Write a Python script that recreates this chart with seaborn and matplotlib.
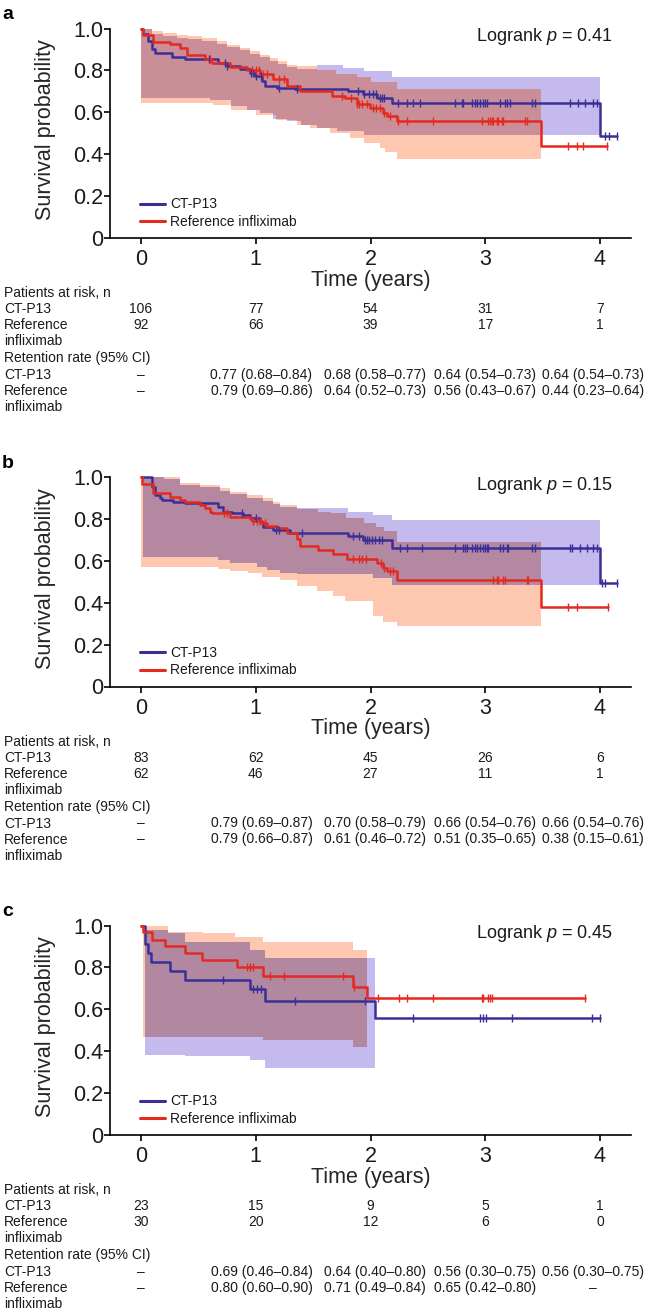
import numpy as np
import matplotlib
matplotlib.use('Agg')
import matplotlib.pyplot as plt
from matplotlib.lines import Line2D
from matplotlib import transforms
import seaborn as sns

sns.set_style('ticks')
plt.rcParams['font.family'] = ['Liberation Sans', 'DejaVu Sans']
plt.rcParams['mathtext.fontset'] = 'custom'
plt.rcParams['mathtext.rm'] = 'Liberation Sans'
plt.rcParams['mathtext.it'] = 'Liberation Sans:italic'
plt.rcParams['text.color'] = '#1a1a1a'

# ---------------- data: panel a ----------------
a_blue_t = [0, 0.02, 0.064, 0.093, 0.122, 0.267, 0.383, 0.674, 0.746, 0.863, 0.95, 0.993,
            1.051, 1.08, 1.182, 1.342, 1.807, 1.937, 2.053, 2.185, 4.0]
a_blue_s = [1.0, 0.973, 0.941, 0.901, 0.885, 0.864, 0.853, 0.837, 0.821, 0.805, 0.789, 0.773,
            0.749, 0.726, 0.718, 0.71, 0.702, 0.686, 0.67, 0.646, 0.486]
a_blue_end = 4.15
a_blue_cens = [0.59, 0.73, 0.75, 0.96, 0.98, 1.0, 1.05, 1.2, 1.36, 1.89, 1.94, 1.99, 2.02, 2.05,
               2.08, 2.1, 2.12, 2.242, 2.315, 2.373, 2.431, 2.736, 2.795, 2.809, 2.882, 2.911,
               2.925, 2.954, 2.983, 2.998, 3.012, 3.128, 3.172, 3.186, 3.216, 3.404, 3.433,
               3.739, 3.811, 3.869, 3.942, 3.971, 4.04, 4.08, 4.15]
a_blue_hi_t = [0, 0.093, 0.194, 0.311, 0.412, 0.529, 0.659, 0.746, 0.863, 0.95, 1.037, 1.124,
               1.196, 1.269, 1.356, 1.53, 1.76, 1.94, 2.19]
a_blue_hi = [1.0, 0.975, 0.965, 0.957, 0.95, 0.942, 0.925, 0.91, 0.895, 0.878, 0.862, 0.846,
             0.83, 0.815, 0.806, 0.825, 0.81, 0.795, 0.767]
a_blue_lo_t = [0, 0.6, 0.78, 0.92, 1.04, 1.15, 1.27, 1.39, 1.53, 1.71, 1.94]
a_blue_lo = [0.668, 0.66, 0.628, 0.613, 0.597, 0.57, 0.557, 0.541, 0.525, 0.509, 0.493]
a_blue_ci_end = 4.0

a_red_t = [0, 0.02, 0.107, 0.253, 0.34, 0.398, 0.558, 0.616, 0.776, 0.921, 1.037, 1.153, 1.27,
           1.385, 1.661, 1.778, 1.88, 1.995, 2.112, 2.14, 2.228, 3.49]
a_red_s = [1.0, 0.97, 0.934, 0.925, 0.906, 0.874, 0.853, 0.837, 0.816, 0.8, 0.781, 0.757, 0.726,
           0.702, 0.678, 0.667, 0.641, 0.622, 0.598, 0.582, 0.56, 0.44]
a_red_end = 4.06
a_red_cens = [0.6, 0.97, 1.0, 1.03, 1.06, 1.1, 1.2, 1.25, 1.75, 1.83, 1.88, 1.9, 1.93, 1.97,
              2.02, 2.05, 2.08, 2.12, 2.17, 2.242, 2.315, 2.547, 2.968, 3.026, 3.04, 3.055,
              3.07, 3.099, 3.113, 3.142, 3.157, 3.346, 3.361, 3.723, 3.796, 3.854, 4.06]
a_red_hi_t = [0, 0.093, 0.194, 0.311, 0.412, 0.529, 0.659, 0.746, 0.863, 0.95, 1.037, 1.124,
              1.196, 1.269, 1.356, 1.53, 1.7, 1.88, 2.0, 2.23]
a_red_hi = [1.0, 0.986, 0.978, 0.97, 0.963, 0.955, 0.939, 0.923, 0.907, 0.891, 0.875, 0.859,
            0.843, 0.827, 0.819, 0.8, 0.785, 0.77, 0.745, 0.71]
a_red_lo_t = [0, 0.63, 0.78, 1.0, 1.18, 1.36, 1.47, 1.65, 1.82, 1.94, 2.08, 2.13, 2.23]
a_red_lo = [0.644, 0.636, 0.613, 0.589, 0.565, 0.541, 0.525, 0.501, 0.477, 0.453, 0.43, 0.41, 0.375]
a_red_ci_end = 3.49

# ---------------- data: panel b ----------------
b_blue_t = [0, 0.093, 0.122, 0.166, 0.18, 0.282, 0.383, 0.674, 0.717, 0.79, 0.892, 0.95,
            1.037, 1.066, 1.153, 1.298, 1.807, 1.937, 2.185, 4.0]
b_blue_s = [1.0, 0.954, 0.914, 0.898, 0.89, 0.883, 0.875, 0.859, 0.835, 0.827, 0.819, 0.803,
            0.787, 0.763, 0.748, 0.732, 0.716, 0.7, 0.66, 0.494]
b_blue_end = 4.146
b_blue_cens = [0.88, 1.0, 1.18, 1.2, 1.4, 1.85, 1.9, 1.95, 1.97, 1.99, 2.01, 2.04, 2.07, 2.1,
               2.257, 2.315, 2.446, 2.736, 2.809, 2.824, 2.838, 2.882, 2.911, 2.925, 2.954,
               2.983, 2.998, 3.012, 3.026, 3.128, 3.157, 3.186, 3.2, 3.404, 3.433, 3.739,
               3.753, 3.826, 3.884, 3.942, 3.971, 4.015, 4.044, 4.146]
b_blue_hi_t = [0, 0.2, 0.34, 0.514, 0.688, 0.776, 0.921, 1.066, 1.153, 1.211, 1.356, 1.807,
               2.02, 2.19]
b_blue_hi = [1.0, 0.99, 0.96, 0.95, 0.935, 0.918, 0.9, 0.885, 0.87, 0.855, 0.851, 0.835,
             0.819, 0.795]
b_blue_lo_t = [0.02, 0.674, 0.776, 1.008, 1.095, 1.211, 1.356, 2.02, 2.19]
b_blue_lo = [0.62, 0.605, 0.59, 0.571, 0.555, 0.543, 0.535, 0.52, 0.486]
b_blue_ci_end = 4.0

b_red_t = [0, 0.005, 0.107, 0.253, 0.34, 0.383, 0.514, 0.558, 0.601, 0.616, 0.776, 0.95,
           0.964, 1.051, 1.095, 1.182, 1.269, 1.356, 1.385, 1.545, 1.676, 1.792, 2.053,
           2.112, 2.14, 2.23, 3.49]
b_red_s = [1.0, 0.968, 0.922, 0.906, 0.89, 0.883, 0.867, 0.851, 0.835, 0.827, 0.808, 0.798,
           0.792, 0.779, 0.767, 0.756, 0.732, 0.703, 0.671, 0.652, 0.633, 0.608, 0.589,
           0.565, 0.549, 0.51, 0.38]
b_red_end = 4.072
b_red_cens = [0.72, 0.75, 0.98, 1.01, 1.04, 1.08, 1.85, 1.9, 1.93, 1.96, 2.09, 2.12, 2.17,
              2.2, 3.07, 3.099, 3.113, 3.157, 3.172, 3.361, 3.375, 3.724, 3.796, 4.072]
b_red_hi_t = [0, 0.34, 0.514, 0.688, 0.776, 0.921, 1.066, 1.153, 1.211, 1.356, 1.545, 1.66,
              1.79, 1.94, 2.05, 2.12, 2.23]
b_red_hi = [1.0, 0.97, 0.962, 0.946, 0.93, 0.914, 0.898, 0.883, 0.867, 0.845, 0.835, 0.827,
            0.803, 0.779, 0.763, 0.74, 0.692]
b_red_lo_t = [0, 0.674, 0.776, 0.935, 1.051, 1.211, 1.356, 1.53, 1.676, 1.777, 2.024, 2.11, 2.23]
b_red_lo = [0.57, 0.56, 0.549, 0.541, 0.525, 0.51, 0.478, 0.454, 0.43, 0.406, 0.335, 0.31, 0.287]
b_red_ci_end = 3.49

# ---------------- data: panel c ----------------
c_blue_t = [0, 0.035, 0.064, 0.084, 0.253, 0.383, 0.95, 1.08, 2.04]
c_blue_s = [1.0, 0.913, 0.87, 0.826, 0.783, 0.739, 0.696, 0.638, 0.558]
c_blue_end = 4.0
c_blue_cens = [0.717, 0.979, 1.008, 1.046, 1.342, 1.952, 2.373, 2.954, 2.983, 3.006, 3.23,
               3.93, 4.0]
c_blue_hi_t = [0.035, 0.238, 0.383, 0.95, 1.08]
c_blue_hi = [0.978, 0.962, 0.922, 0.883, 0.846]
c_blue_lo_t = [0.035, 0.383, 0.95, 1.08]
c_blue_lo = [0.382, 0.375, 0.359, 0.319]
c_blue_ci_end = 2.04

c_red_t = [0, 0.02, 0.093, 0.209, 0.383, 0.529, 0.834, 1.066, 1.85, 1.966]
c_red_s = [1.0, 0.967, 0.933, 0.9, 0.867, 0.833, 0.8, 0.757, 0.707, 0.653]
c_red_end = 3.87
c_red_cens = [0.921, 0.95, 0.973, 1.124, 1.246, 1.763, 1.856, 2.068, 2.251, 2.315, 2.547,
              2.968, 2.983, 3.026, 3.04, 3.055, 3.87]
c_red_hi_t = [0.02, 0.238, 0.529, 0.819, 1.066, 1.85]
c_red_hi = [1.0, 0.97, 0.962, 0.946, 0.919, 0.883]
c_red_lo_t = [0.02, 1.066, 1.85]
c_red_lo = [0.47, 0.455, 0.42]
c_red_ci_end = 1.966

# ---------------- tables ----------------
years = [0, 1, 2, 3, 4]
ret_pos = [0, 1.05, 2.04, 3.0, 3.94]
a_risk_ct = [106, 77, 54, 31, 7]
a_risk_ref = [92, 66, 39, 17, 1]
a_ret_ct = ['–', '0.77 (0.68–0.84)', '0.68 (0.58–0.77)', '0.64 (0.54–0.73)', '0.64 (0.54–0.73)']
a_ret_ref = ['–', '0.79 (0.69–0.86)', '0.64 (0.52–0.73)', '0.56 (0.43–0.67)', '0.44 (0.23–0.64)']
b_risk_ct = [83, 62, 45, 26, 6]
b_risk_ref = [62, 46, 27, 11, 1]
b_ret_ct = ['–', '0.79 (0.69–0.87)', '0.70 (0.58–0.79)', '0.66 (0.54–0.76)', '0.66 (0.54–0.76)']
b_ret_ref = ['–', '0.79 (0.66–0.87)', '0.61 (0.46–0.72)', '0.51 (0.35–0.65)', '0.38 (0.15–0.61)']
c_risk_ct = [23, 15, 9, 5, 1]
c_risk_ref = [30, 20, 12, 6, 0]
c_ret_ct = ['–', '0.69 (0.46–0.84)', '0.64 (0.40–0.80)', '0.56 (0.30–0.75)', '0.56 (0.30–0.75)']
c_ret_ref = ['–', '0.80 (0.60–0.90)', '0.71 (0.49–0.84)', '0.65 (0.42–0.80)', '–']

letters = ['a', 'b', 'c']
pvalues = ['0.41', '0.15', '0.45']
group_labels = ['CT-P13', 'Reference infliximab']

BLUE, RED = '#3a2f98', '#e42a20'
LAVENDER, PEACH = '#c4baee', '#fdc8af'
overlap_colors = ['#c98e98', '#b488a0', '#b288a0']


def group(t, s, end, cens, hi_t, hi, lo_t, lo, ci_end):
    return dict(t=t, s=s, end=end, cens=cens, hi_t=hi_t, hi=hi, lo_t=lo_t, lo=lo, ci_end=ci_end)


panels = [
    dict(blue=group(a_blue_t, a_blue_s, a_blue_end, a_blue_cens, a_blue_hi_t, a_blue_hi,
                    a_blue_lo_t, a_blue_lo, a_blue_ci_end),
         red=group(a_red_t, a_red_s, a_red_end, a_red_cens, a_red_hi_t, a_red_hi,
                   a_red_lo_t, a_red_lo, a_red_ci_end),
         risk=(a_risk_ct, a_risk_ref), ret=(a_ret_ct, a_ret_ref)),
    dict(blue=group(b_blue_t, b_blue_s, b_blue_end, b_blue_cens, b_blue_hi_t, b_blue_hi,
                    b_blue_lo_t, b_blue_lo, b_blue_ci_end),
         red=group(b_red_t, b_red_s, b_red_end, b_red_cens, b_red_hi_t, b_red_hi,
                   b_red_lo_t, b_red_lo, b_red_ci_end),
         risk=(b_risk_ct, b_risk_ref), ret=(b_ret_ct, b_ret_ref)),
    dict(blue=group(c_blue_t, c_blue_s, c_blue_end, c_blue_cens, c_blue_hi_t, c_blue_hi,
                    c_blue_lo_t, c_blue_lo, c_blue_ci_end),
         red=group(c_red_t, c_red_s, c_red_end, c_red_cens, c_red_hi_t, c_red_hi,
                   c_red_lo_t, c_red_lo, c_red_ci_end),
         risk=(c_risk_ct, c_risk_ref), ret=(c_ret_ct, c_ret_ref)),
]


def step_eval(tt, vv, start, end, grid):
    tt = np.asarray(tt, float)
    vv = np.asarray(vv, float)
    idx = np.clip(np.searchsorted(tt, grid, side='right') - 1, 0, None)
    out = vv[idx]
    out[(grid < start) | (grid >= end)] = np.nan
    return out


def band_arrays(g, grid):
    start = max(g['hi_t'][0], g['lo_t'][0])
    hi = step_eval(g['hi_t'], g['hi'], start, g['ci_end'], grid)
    lo = step_eval(g['lo_t'], g['lo'], start, g['ci_end'], grid)
    return lo, hi


def as_steps(grid, vals):
    return np.repeat(grid, 2)[1:-1], np.repeat(vals[:-1], 2)


def km_at(g, x):
    t = np.asarray(g['t'])
    s = np.asarray(g['s'])
    return s[np.searchsorted(t, x, side='right') - 1]


# ---------------- figure ----------------
W, H = 646, 1313
fig = plt.figure(figsize=(W / 100, H / 100), dpi=100)

X0, XS, YS = 141, 114.75, 209.5        # pixel of t=0, px per year, px per unit survival
axis_bottoms = [238, 686.5, 1135]
row_off = dict(head1=55, ct1=71, ref1=87, inf1=103, head2=120, ct2=137, ref2=153, inf2=169)

for k, p in enumerate(panels):
    y0 = axis_bottoms[k]
    ax = fig.add_axes([110 / W, (H - y0) / H, 521 / W, 1.03 * YS / H])
    ax.set_xlim(-31 / XS, 490 / XS)
    ax.set_ylim(0, 1.03)

    # confidence bands (blue, red and their overlap)
    grid = np.unique(np.concatenate([
        p['blue']['hi_t'], p['blue']['lo_t'], [p['blue']['ci_end']],
        p['red']['hi_t'], p['red']['lo_t'], [p['red']['ci_end']]]).astype(float))
    blo, bhi = band_arrays(p['blue'], grid)
    rlo, rhi = band_arrays(p['red'], grid)
    olo = np.maximum(blo, rlo)
    ohi = np.minimum(bhi, rhi)
    for lo, hi, col in [(blo, bhi, LAVENDER), (rlo, rhi, PEACH), (olo, ohi, overlap_colors[k])]:
        xs, los = as_steps(grid, lo)
        _, his = as_steps(grid, hi)
        ok = ~np.isnan(los) & ~np.isnan(his) & (np.nan_to_num(his) > np.nan_to_num(los))
        ax.fill_between(xs, np.nan_to_num(los), np.nan_to_num(his), where=ok,
                        color=col, linewidth=0, zorder=1)

    # KM curves and censor ticks
    for key, col in [('blue', BLUE), ('red', RED)]:
        g = p[key]
        xs = list(g['t']) + [g['end']]
        ys = list(g['s']) + [g['s'][-1]]
        sns.lineplot(x=xs, y=ys, drawstyle='steps-post', color=col, linewidth=1.8,
                     estimator=None, sort=False, ax=ax, zorder=3)
        cy = km_at(g, np.asarray(g['cens']))
        sns.scatterplot(x=g['cens'], y=cy, marker='|', s=30, color=col, linewidth=1.0,
                        ax=ax, zorder=4)

    # axes styling
    sns.despine(ax=ax)
    ax.spines['left'].set_bounds(0, 1.0)
    for sp in ['left', 'bottom']:
        ax.spines[sp].set_linewidth(1.2)
        ax.spines[sp].set_color('black')
    ax.set_xticks(years)
    ax.set_xticklabels([str(y) for y in years])
    ax.set_yticks([0, 0.2, 0.4, 0.6, 0.8, 1.0])
    ax.set_yticklabels(['0', '0.2', '0.4', '0.6', '0.8', '1.0'])
    ax.tick_params(axis='both', labelsize=15.5, length=4, width=1.2, color='black',
                   labelcolor='#1a1a1a')
    ax.tick_params(axis='y', pad=1)
    ax.tick_params(axis='x', pad=4)
    ax.set_xlabel('Time (years)', fontsize=15.5)
    ax.set_ylabel('Survival probability', fontsize=15.5)
    ax.xaxis.set_label_coords(0.5, -0.146)
    ax.yaxis.set_label_coords(-0.1036, 0.5)

    ax.text(4.11, 0.94, f'Logrank $p$ = {pvalues[k]}', ha='right', va='baseline', fontsize=13)

    handles = [Line2D([], [], color=BLUE, lw=2.2), Line2D([], [], color=RED, lw=2.2)]
    ax.legend(handles, group_labels, loc='lower left', bbox_to_anchor=(0.057, 0.042),
              frameon=False, fontsize=10, handlelength=1.8, handletextpad=0.4,
              labelspacing=0.25, borderaxespad=0, borderpad=0)

    fig.text(2 / W, (H - (y0 - 219)) / H, letters[k], fontsize=14, fontweight='bold',
             ha='left', va='baseline', color='black')

    # risk and retention tables
    trans = transforms.blended_transform_factory(ax.transData, fig.transFigure)

    def fy(off):
        return (H - (y0 + off)) / H

    fig.text(4 / W, fy(row_off['head1']), 'Patients at risk, n', fontsize=10, va='center')
    fig.text(4 / W, fy(row_off['ct1']), 'CT-P13', fontsize=10, va='center')
    fig.text(4 / W, fy(row_off['ref1']), 'Reference', fontsize=10, va='center')
    fig.text(4 / W, fy(row_off['inf1']), 'infliximab', fontsize=10, va='center')
    fig.text(4 / W, fy(row_off['head2']), 'Retention rate (95% CI)', fontsize=10, va='center')
    fig.text(4 / W, fy(row_off['ct2']), 'CT-P13', fontsize=10, va='center')
    fig.text(4 / W, fy(row_off['ref2']), 'Reference', fontsize=10, va='center')
    fig.text(4 / W, fy(row_off['inf2']), 'infliximab', fontsize=10, va='center')

    risk_ct, risk_ref = p['risk']
    ret_ct, ret_ref = p['ret']
    for i, yr in enumerate(years):
        ax.text(yr, fy(row_off['ct1']), str(risk_ct[i]), transform=trans, ha='center',
                va='center', fontsize=10)
        ax.text(yr, fy(row_off['ref1']), str(risk_ref[i]), transform=trans, ha='center',
                va='center', fontsize=10)
        ax.text(ret_pos[i], fy(row_off['ct2']), ret_ct[i], transform=trans, ha='center',
                va='center', fontsize=10)
        ax.text(ret_pos[i], fy(row_off['ref2']), ret_ref[i], transform=trans, ha='center',
                va='center', fontsize=10)

fig.savefig('out.png', dpi=100)
